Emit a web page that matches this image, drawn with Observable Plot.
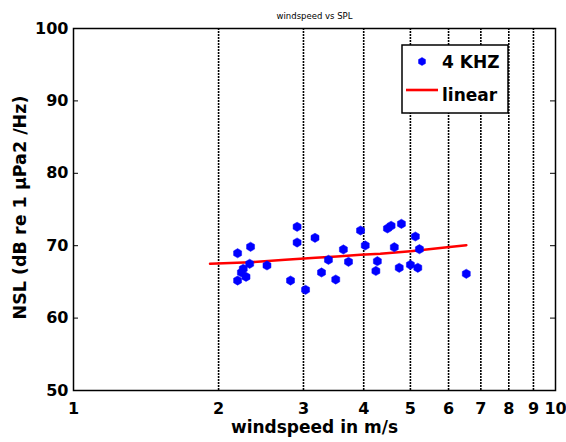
<!DOCTYPE html>
<html>
<head>
<meta charset="utf-8">
<script src="https://cdn.jsdelivr.net/npm/d3@7"></script>
<script src="https://cdn.jsdelivr.net/npm/@observablehq/plot@0.6"></script>
<style>
  html, body { margin: 0; padding: 0; background: white; }
</style>
</head>
<body>
<div id="chart"></div>
<script>
const chartTitle = "windspeed vs SPL";
const xLabel = "windspeed in m/s";
const yLabel = "NSL (dB re 1 μPa2 /Hz)";
const xTicks = [1, 2, 3, 4, 5, 6, 7, 8, 9, 10];
const yTicks = [50, 60, 70, 80, 90, 100];
const gridX = [2, 3, 4, 5, 6, 7, 8, 9];
const seriesName = "4 KHZ";
const fitName = "linear";

// measured points (windspeed m/s, NSL dB)
const windspeed = [2.19, 2.33, 2.25, 2.23, 2.32, 2.28, 2.19, 2.52, 2.82, 2.91, 2.91, 3.03, 3.17, 3.27, 3.38, 3.50, 3.63, 3.72, 3.94, 4.03, 4.27, 4.24, 4.48, 4.56, 4.79, 5.12, 4.63, 5.22, 4.74, 5.00, 5.18, 6.53];
const nsl       = [68.96, 69.85, 66.81, 66.30, 67.50, 65.70, 65.19, 67.27, 65.19, 72.61, 70.44, 63.91, 71.09, 66.30, 68.05, 65.33, 69.48, 67.78, 72.10, 70.03, 67.86, 66.51, 72.38, 72.75, 73.02, 71.27, 69.79, 69.52, 66.95, 67.36, 66.95, 66.12];

// linear fit line
const fitX = [1.92, 2.33, 2.75, 3.18, 3.52, 3.94, 4.33, 5.00, 5.96, 6.53];
const fitY = [67.50, 67.72, 68.05, 68.33, 68.51, 68.74, 68.88, 69.24, 69.79, 70.07];

const points = windspeed.map((w, i) => ({w, v: nsl[i]}));
const fit = fitX.map((w, i) => ({w, v: fitY[i]}));

const W = 566, H = 442, mL = 73, mR = 11, mT = 28, mB = 52;
const innerW = W - mL - mR;
const font = "'DejaVu Sans', sans-serif";

const chart = Plot.plot({
  width: W, height: H,
  marginLeft: mL, marginRight: mR, marginTop: mT, marginBottom: mB,
  style: {fontFamily: font, background: "white", color: "black", overflow: "visible"},
  x: {type: "log", domain: [1, 10]},
  y: {domain: [50, 100]},
  marks: [
    Plot.ruleX(gridX, {stroke: "black", strokeWidth: 1.6, strokeDasharray: "2,1"}),
    Plot.ruleY(yTicks.slice(1, -1), {stroke: "black", strokeWidth: 1, insetRight: innerW - 5}),
    Plot.ruleY(yTicks.slice(1, -1), {stroke: "black", strokeWidth: 1, insetLeft: innerW - 5}),
    Plot.frame({stroke: "black", strokeWidth: 1.5}),
    Plot.line(fit, {x: "w", y: "v", stroke: "red", strokeWidth: 2.6}),
    Plot.dot(points, {x: "w", y: "v", symbol: "hexagon", r: 4, fill: "blue", stroke: "blue", strokeWidth: 0.5}),
    Plot.axisX({ticks: xTicks, tickFormat: d => String(d), tickSize: 0, tickPadding: 12, fontSize: 16, fontWeight: "bold", label: null}),
    Plot.axisY({ticks: yTicks, tickFormat: d => String(d), tickSize: 0, tickPadding: 5, fontSize: 16, fontWeight: "bold", label: null}),
    Plot.text([xLabel], {frameAnchor: "bottom", dy: 42, fontSize: 17, fontWeight: "bold", fill: "black"}),
    Plot.text([yLabel], {frameAnchor: "left", textAnchor: "middle", dx: -53, dy: -2, rotate: -90, fontSize: 17.5, fontWeight: "bold", fill: "black"}),
    Plot.text([chartTitle], {frameAnchor: "top", dy: -16, fontSize: 8.5, fill: "black"})
  ]
});

document.getElementById("chart").appendChild(chart);

// legend
const svg = d3.select(chart);
const lg = svg.append("g").attr("font-family", font).attr("font-weight", "bold")
  .attr("font-size", 17).attr("text-anchor", "start").attr("fill", "black");
lg.append("rect").attr("x", 402).attr("y", 45).attr("width", 106).attr("height", 68)
  .attr("fill", "white").attr("stroke", "black").attr("stroke-width", 1.5);
const hex = d3.range(6).map(k => {
  const a = Math.PI / 3 * k;
  return [422 + 4 * Math.sin(a), 61.5 + 4 * Math.cos(a)];
});
lg.append("path").attr("d", "M" + hex.join("L") + "Z").attr("fill", "blue").attr("stroke", "blue").attr("stroke-width", 0.5);
lg.append("text").attr("x", 442).attr("y", 67.5).text(seriesName);
lg.append("line").attr("x1", 406).attr("x2", 438).attr("y1", 90).attr("y2", 90)
  .attr("stroke", "red").attr("stroke-width", 2.6);
lg.append("text").attr("x", 442).attr("y", 101).text(fitName);
</script>
</body>
</html>
